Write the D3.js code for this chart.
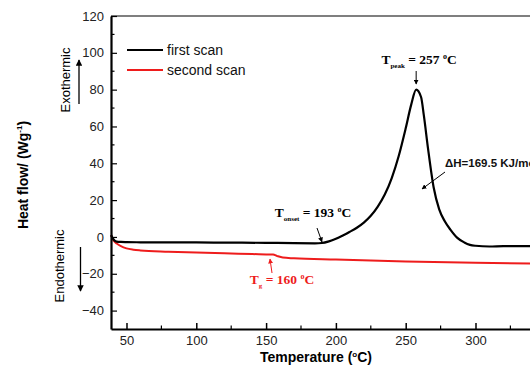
<!DOCTYPE html>
<html><head><meta charset="utf-8">
<script src="https://cdn.jsdelivr.net/npm/d3@7/dist/d3.min.js"></script>
<style>
html,body{margin:0;padding:0;background:#fff;}
svg{display:block;}
</style></head>
<body><svg id="c" width="530" height="367"></svg>
<script>
// ---- data ----
const firstScanT = [39, 40, 41.5, 43, 46, 50, 60, 80, 100, 120, 150, 170, 185, 190, 195, 200, 205, 210, 215, 220, 225, 230, 235, 240, 245, 250, 254, 257.5, 261, 263, 266, 270, 274, 278, 282, 287, 292, 296, 300, 310, 320, 330, 350];
const firstScanV = [1, -0.5, -2, -2.5, -2.7, -2.8, -2.9, -3.0, -3.0, -3.1, -3.2, -3.4, -3.5, -3.3, -2.4, -1.0, 0.8, 2.8, 5.0, 7.8, 11.5, 16.5, 23, 32, 44, 59, 72, 80, 76, 66, 48, 27, 15, 8.5, 4, -0.5, -3, -4.3, -4.8, -5.2, -5.0, -5.0, -5.0];
const secondScanT = [39, 40, 41, 43, 46, 50, 55, 60, 80, 100, 120, 140, 150, 155, 158, 162, 170, 200, 250, 300, 350];
const secondScanV = [1, -1, -2.2, -3.6, -5, -6.2, -6.9, -7.3, -8.0, -8.5, -8.9, -9.3, -9.5, -9.6, -10.4, -11.2, -11.6, -12.3, -13.3, -14.0, -14.5];
const xTicks = [50, 100, 150, 200, 250, 300];
const xMinorTicks = [75, 125, 175, 225, 275, 325];
const yTicks = [-40, -20, 0, 20, 40, 60, 80, 100, 120];
const yMinorTicks = [-30, -10, 10, 30, 50, 70, 90, 110];
const legendLabels = ["first scan", "second scan"];
const colors = ["#000000", "#ee1c1c"];

const svg = d3.select("#c");
const x = d3.scaleLinear().domain([38.9, 350]).range([111, 545.3]);
const y = d3.scaleLinear().domain([-50, 120]).range([329, 16]);
const sans = "Arial, 'Liberation Sans', sans-serif";
const serif = "'Liberation Serif', 'DejaVu Serif', serif";

// plot frame: top border
svg.append("line").attr("x1", 111).attr("x2", 545).attr("y1", y(120)).attr("y2", y(120))
  .attr("stroke", "#555").attr("stroke-width", 1.5);

// curves
const line = d3.line().x(d => x(d[0])).y(d => y(d[1])).curve(d3.curveMonotoneX);
const s1 = firstScanT.map((t, i) => [t, firstScanV[i]]);
const s2 = secondScanT.map((t, i) => [t, secondScanV[i]]);
svg.append("path").attr("d", line(s2)).attr("fill", "none").attr("stroke", colors[1]).attr("stroke-width", 2);
svg.append("path").attr("d", line(s1)).attr("fill", "none").attr("stroke", colors[0]).attr("stroke-width", 2.2);

// axes
const xAxis = d3.axisBottom(x).tickValues(xTicks).tickSizeInner(-6).tickSizeOuter(0).tickPadding(7).tickFormat(d3.format("d"));
const gx = svg.append("g").attr("transform", `translate(0,${y(-50)})`).call(xAxis);
gx.select(".domain").attr("stroke-width", 2.2);
gx.selectAll(".tick line").attr("stroke-width", 1.5);
gx.selectAll("text").attr("font-family", sans).attr("font-size", 13).attr("fill", "#222");
svg.append("g").selectAll("line").data(xMinorTicks).join("line")
  .attr("x1", d => x(d)).attr("x2", d => x(d)).attr("y1", y(-50)).attr("y2", y(-50) - 3.5)
  .attr("stroke", "#000").attr("stroke-width", 1.2);

const yAxis = d3.axisLeft(y).tickValues(yTicks).tickSizeInner(-6).tickSizeOuter(0).tickPadding(7).tickFormat(d3.format("d"));
const gy = svg.append("g").attr("transform", `translate(${x(38.9)},0)`).call(yAxis);
gy.select(".domain").attr("stroke-width", 2.2);
gy.selectAll(".tick line").attr("stroke-width", 1.2);
gy.selectAll("text").attr("font-family", sans).attr("font-size", 13).attr("fill", "#222");
svg.append("g").selectAll("line").data(yMinorTicks).join("line")
  .attr("x1", x(38.9)).attr("x2", x(38.9) + 3.5).attr("y1", d => y(d)).attr("y2", d => y(d))
  .attr("stroke", "#000").attr("stroke-width", 1.2);

// axis titles
svg.append("text").attr("x", 316).attr("y", 361.5).attr("text-anchor", "middle")
  .attr("font-family", sans).attr("font-weight", "bold").attr("font-size", 14)
  .html('Temperature (<tspan dy="-5" font-size="8">o</tspan><tspan dy="5">C)</tspan>');
svg.append("text").attr("transform", "translate(28,175) rotate(-90)").attr("text-anchor", "middle")
  .attr("font-family", sans).attr("font-weight", "bold").attr("font-size", 14)
  .html('Heat flow/ (Wg<tspan dy="-6" font-size="8">-1</tspan><tspan dy="6">)</tspan>');

// defs: arrow marker
const defs = svg.append("defs");
defs.append("marker").attr("id", "ah").attr("viewBox", "0 0 10 10").attr("refX", 9).attr("refY", 5)
  .attr("markerWidth", 5).attr("markerHeight", 5).attr("orient", "auto")
  .append("path").attr("d", "M0,0 L10,5 L0,10 z").attr("fill", "#000");
defs.append("marker").attr("id", "ahr").attr("viewBox", "0 0 10 10").attr("refX", 9).attr("refY", 5)
  .attr("markerWidth", 5).attr("markerHeight", 5).attr("orient", "auto")
  .append("path").attr("d", "M0,0 L10,5 L0,10 z").attr("fill", colors[1]);

// exo / endo labels
svg.append("text").attr("transform", "translate(70,80) rotate(-90)").attr("text-anchor", "middle")
  .attr("font-family", sans).attr("font-size", 13).text("Exothermic");
svg.append("line").attr("x1", 79).attr("x2", 79).attr("y1", 104).attr("y2", 60)
  .attr("stroke", "#000").attr("stroke-width", 1.3).attr("marker-end", "url(#ah)");
svg.append("text").attr("transform", "translate(64,266) rotate(-90)").attr("text-anchor", "middle")
  .attr("font-family", sans).attr("font-size", 13).text("Endothermic");
svg.append("line").attr("x1", 80.5).attr("x2", 80.5).attr("y1", 247).attr("y2", 291)
  .attr("stroke", "#000").attr("stroke-width", 1.3).attr("marker-end", "url(#ah)");

// legend
const lg = svg.append("g");
legendLabels.forEach((lab, i) => {
  const ly = 50 + i * 20;
  lg.append("line").attr("x1", 127).attr("x2", 163).attr("y1", ly).attr("y2", ly)
    .attr("stroke", colors[i]).attr("stroke-width", 2);
  lg.append("text").attr("x", 167).attr("y", ly + 5).attr("font-family", sans).attr("font-size", 14)
    .attr("fill", "#111").text(lab);
});

// annotations (serif)
function tLabel(cx, cy, sub, val, color) {
  const t = svg.append("text").attr("x", cx).attr("y", cy).attr("text-anchor", "middle")
    .attr("font-family", serif).attr("font-weight", "bold").attr("font-size", 13.5).attr("fill", color);
  t.append("tspan").text("T");
  t.append("tspan").attr("dy", 4).attr("font-size", 7).text(sub);
  t.append("tspan").attr("dy", -4).text(" = " + val + " ");
  t.append("tspan").attr("dy", -5).attr("font-size", 8).text("o");
  t.append("tspan").attr("dy", 5).text("C");
}
tLabel(419, 64, "peak", 257, "#000");
svg.append("line").attr("x1", x(257.5)).attr("x2", x(257.5)).attr("y1", 71).attr("y2", 84)
  .attr("stroke", "#000").attr("stroke-width", 1).attr("marker-end", "url(#ah)");

tLabel(313, 217, "onset", 193, "#000");
svg.append("line").attr("x1", 317).attr("x2", 322).attr("y1", 228).attr("y2", 242)
  .attr("stroke", "#000").attr("stroke-width", 1).attr("marker-end", "url(#ah)");

tLabel(282, 284, "g", 160, colors[1]);
svg.append("line").attr("x1", 272).attr("x2", 270).attr("y1", 273).attr("y2", 259)
  .attr("stroke", colors[1]).attr("stroke-width", 1).attr("marker-end", "url(#ahr)");

svg.append("text").attr("x", 445).attr("y", 167).attr("font-family", sans).attr("font-weight", "bold")
  .attr("font-size", 11.5).attr("fill", "#111").text("\u0394H=169.5 KJ/mol");
svg.append("line").attr("x1", 445).attr("x2", 422).attr("y1", 172).attr("y2", 189)
  .attr("stroke", "#000").attr("stroke-width", 1).attr("marker-end", "url(#ah)");
</script></body></html>
